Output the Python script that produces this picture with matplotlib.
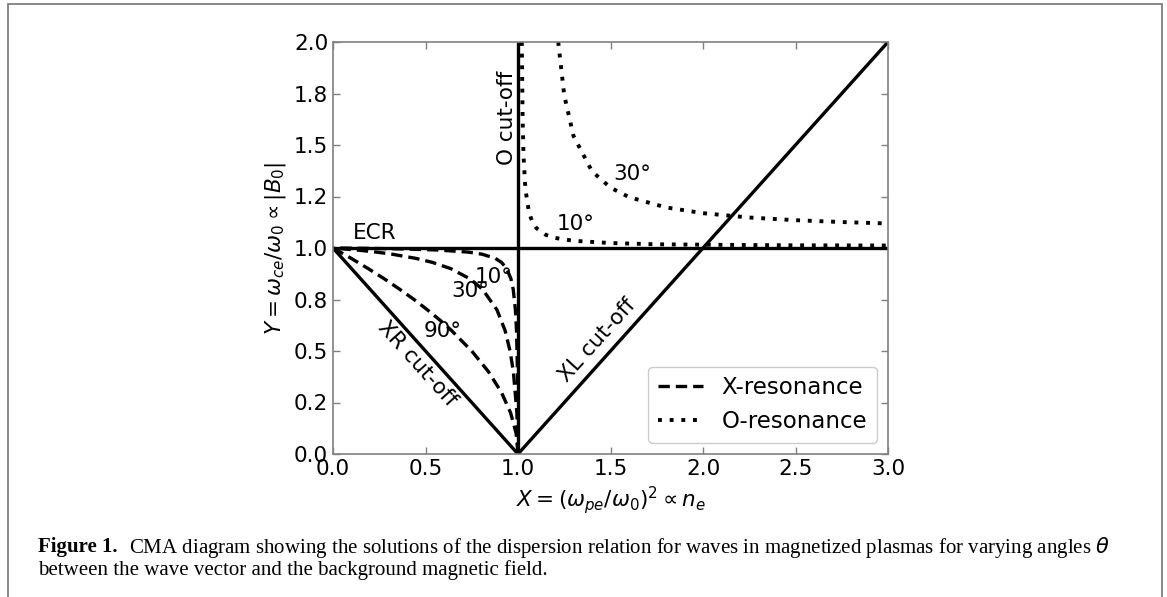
import matplotlib
matplotlib.use("Agg")
import matplotlib.pyplot as plt
from matplotlib.patches import Rectangle

# ---- cut-off and ECR lines (endpoints in X, Y) ----
ecr_x, ecr_y = [0.0, 3.0], [1.0, 1.0]
o_cut_x, o_cut_y = [1.0, 1.0], [0.0, 2.0]
xr_cut_x, xr_cut_y = [0.0, 1.0], [1.0, 0.0]
xl_cut_x, xl_cut_y = [1.0, 3.0], [0.0, 2.0]

# ---- X-resonance branches (below ECR) ----
xres_10_x = [1.000, 0.999, 0.997, 0.992, 0.986, 0.974, 0.962, 0.939, 0.911,
             0.877, 0.805, 0.731, 0.572, 0.399, 0.209, 0.000]
xres_10_y = [0.00, 0.20, 0.40, 0.60, 0.70, 0.80, 0.85, 0.90, 0.93,
             0.95, 0.97, 0.98, 0.99, 0.995, 0.998, 1.00]

xres_30_x = [1.000, 0.994, 0.975, 0.957, 0.930, 0.886, 0.808, 0.741, 0.636,
             0.538, 0.446, 0.319, 0.235, 0.132, 0.000]
xres_30_y = [0.00, 0.20, 0.40, 0.50, 0.60, 0.70, 0.80, 0.85, 0.90,
             0.93, 0.95, 0.97, 0.98, 0.99, 1.00]

xres_90_x = [1.000, 0.990, 0.960, 0.910, 0.840, 0.750, 0.640, 0.578, 0.510,
             0.438, 0.360, 0.278, 0.190, 0.098, 0.000]
xres_90_y = [0.00, 0.10, 0.20, 0.30, 0.40, 0.50, 0.60, 0.65, 0.70,
             0.75, 0.80, 0.85, 0.90, 0.95, 1.00]

# ---- O-resonance branches (above ECR) ----
ores_10_x = [1.0207, 1.025, 1.03, 1.04, 1.06, 1.08, 1.10, 1.15, 1.20,
             1.30, 1.50, 1.75, 2.00, 2.50, 3.00]
ores_10_y = [2.000, 1.628, 1.446, 1.286, 1.169, 1.122, 1.096, 1.064, 1.049,
             1.035, 1.024, 1.018, 1.016, 1.013, 1.012]

ores_30_x = [1.2175, 1.25, 1.30, 1.40, 1.50, 1.60, 1.80, 2.00, 2.25,
             2.50, 2.75, 3.00]
ores_30_y = [2.000, 1.741, 1.544, 1.372, 1.293, 1.247, 1.197, 1.169, 1.148,
             1.135, 1.126, 1.119]

x_ticks = [0.0, 0.5, 1.0, 1.5, 2.0, 2.5, 3.0]
y_ticks = [0.0, 0.25, 0.5, 0.75, 1.0, 1.25, 1.5, 1.75, 2.0]

plt.rcParams["font.family"] = "DejaVu Sans"
plt.rcParams["mathtext.fontset"] = "dejavusans"
plt.rcParams["font.size"] = 15.5

W, H = 1167, 597
fig = plt.figure(figsize=(W / 100, H / 100), dpi=100)
ax = fig.add_axes([333 / W, 1 - 454 / H, (888 - 333) / W, (454 - 42) / H])

lw = 2.4
solid = dict(color="black", lw=lw, solid_capstyle="butt")
ax.plot(ecr_x, ecr_y, **solid)
ax.plot(o_cut_x, o_cut_y, **solid)
ax.plot(xr_cut_x, xr_cut_y, **solid)
ax.plot(xl_cut_x, xl_cut_y, **solid)

dash = dict(color="black", lw=lw, ls=(0, (3.4, 1.8)))
ax.plot(xres_10_x, xres_10_y, label="X-resonance", **dash)
ax.plot(xres_30_x, xres_30_y, **dash)
ax.plot(xres_90_x, xres_90_y, **dash)

dot = dict(color="black", lw=lw + 0.4, ls=(0, (1, 2.0)))
ax.plot(ores_10_x, ores_10_y, label="O-resonance", **dot)
ax.plot(ores_30_x, ores_30_y, **dot)

# annotations
ax.text(0.227, 1.073, "ECR", ha="center", va="center")
ax.text(0.94, 1.63, "O cut-off", ha="center", va="center", rotation=90)
ax.text(0.87, 0.86, "10°", ha="center", va="center")
ax.text(0.74, 0.79, "30°", ha="center", va="center")
ax.text(0.595, 0.597, "90°", ha="center", va="center")
ax.text(0.454, 0.437, "XR cut-off", ha="center", va="center",
        rotation=-48, rotation_mode="anchor")
ax.text(1.43, 0.55, "XL cut-off", ha="center", va="center",
        rotation=48, rotation_mode="anchor")
ax.text(1.62, 1.36, "30°", ha="center", va="center")
ax.text(1.31, 1.117, "10°", ha="center", va="center")

ax.set_xlim(0, 3)
ax.set_ylim(0, 2)
ax.set_xticks(x_ticks)
ax.set_xticklabels([f"{v:.1f}" for v in x_ticks])
ax.set_yticks(y_ticks)
ax.set_yticklabels([f"{v:.1f}" for v in y_ticks])
ax.tick_params(direction="in", top=True, right=True, length=5, width=1,
               color="#808080", labelsize=15.5)
for s in ax.spines.values():
    s.set_color("#808080")
    s.set_linewidth(1.2)

ax.set_xlabel(r"$X = (\omega_{pe}/\omega_0)^2 \propto n_e$", fontsize=15.5)
ax.set_ylabel(r"$Y = \omega_{ce}/\omega_0 \propto |B_0|$", fontsize=15.5)

leg = ax.legend(loc="lower right", fontsize=16.5, framealpha=1,
                edgecolor="#cccccc", borderaxespad=0.5, handlelength=2.0)

# caption with bold lead-in
cap_font = "Liberation Serif"
renderer = fig.canvas.get_renderer()
x0 = 38 / W
line1 = ("CMA diagram showing the solutions of the dispersion relation for waves "
         "in magnetized plasmas for varying angles $\\theta$")
line2 = "between the wave vector and the background magnetic field."

fs = 13
lead = fig.text(x0, 1 - 547 / H, "Figure 1.", fontsize=fs, fontweight="bold",
                family=cap_font, va="center")
bb = lead.get_window_extent(renderer)
rest = fig.text((bb.x1 + 10) / W, 1 - 547 / H, line1, fontsize=fs,
                family=cap_font, va="center")
bb2 = rest.get_window_extent(renderer)
scale = (1110 - 38) / (bb2.x1 - 38)
fs2 = fs * scale
lead.set_fontsize(fs2)
bb = lead.get_window_extent(renderer)
rest.set_fontsize(fs2)
rest.set_x((bb.x1 + 10 * scale) / W)
fig.text(x0, 1 - 570 / H, line2, fontsize=fs2, family=cap_font, va="center")

# outer frame
fig.add_artist(Rectangle((8 / W, -0.05), (1162 - 8) / W, 1.05 - 4 / H,
                         transform=fig.transFigure, fill=False,
                         edgecolor="#7f7f7f", lw=1.3))

fig.savefig("out.png", dpi=100)
